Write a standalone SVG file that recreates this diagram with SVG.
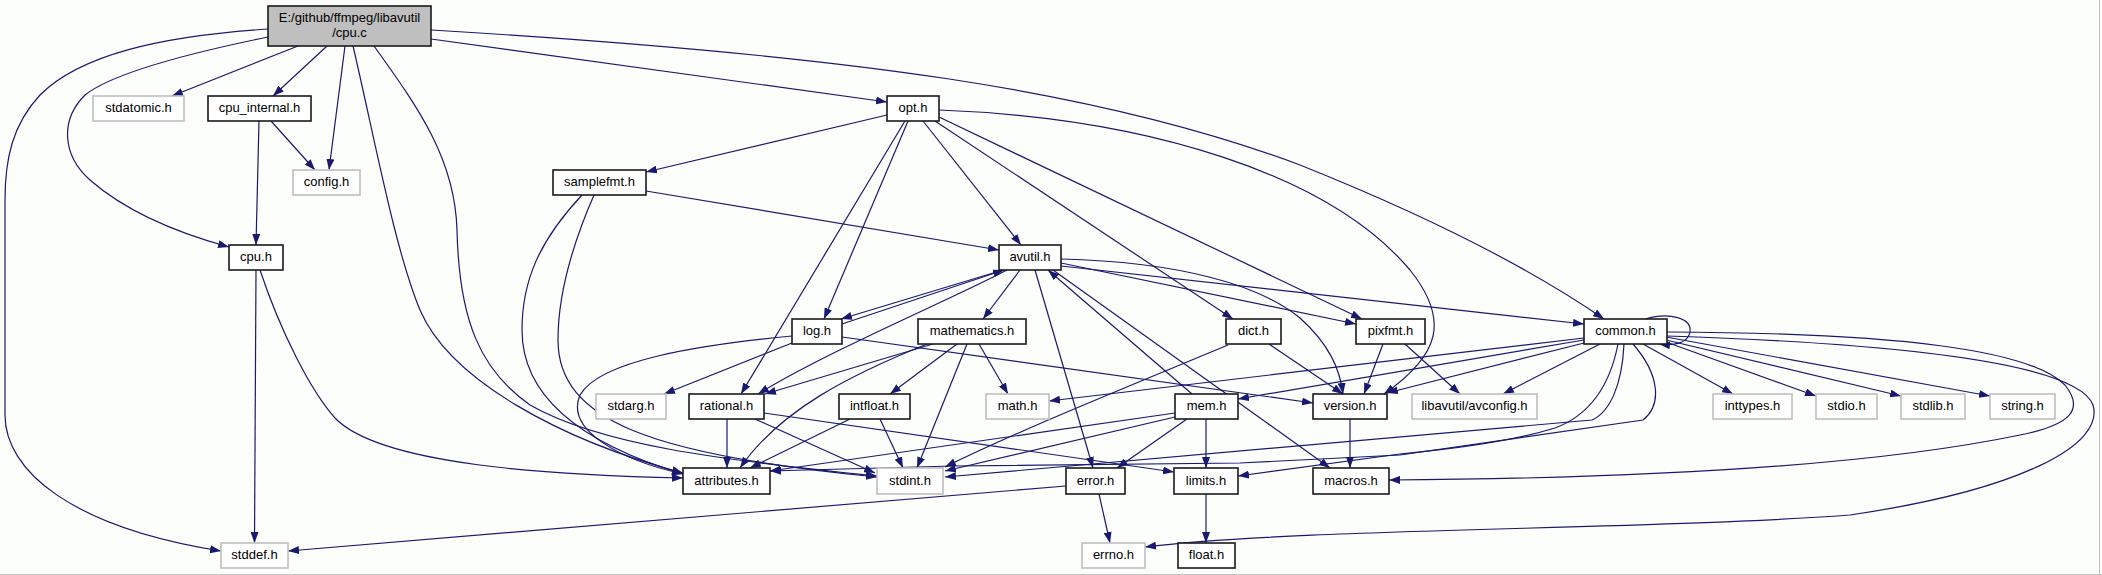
<svg xmlns="http://www.w3.org/2000/svg" width="2102" height="575" viewBox="0 0 2102 575">
<style>
.e{fill:none;stroke:#191970;stroke-width:1.2;marker-end:url(#ah)}
.n rect{fill:#ffffff;stroke:#1a1a1a;stroke-width:1.6}
.g rect{fill:#ffffff;stroke:#bfbfbf;stroke-width:1.6}
.r rect{fill:#bfbfbf;stroke:#1a1a1a;stroke-width:1.6}
text{font-family:"Liberation Sans",Arial,sans-serif;font-size:13px;fill:#000000;text-anchor:middle}
</style>
<defs>
<marker id="ah" markerUnits="userSpaceOnUse" markerWidth="11" markerHeight="8" viewBox="0 0 11 8" refX="11" refY="4" orient="auto"><path d="M0,0 L11,4 L0,8 z" fill="#191970"/></marker>
</defs>
<rect x="0" y="0" width="2102" height="575" fill="#fcfefc"/>
<line x1="0" y1="574.5" x2="2102" y2="574.5" stroke="#c4c4c4" stroke-width="1"/>
<line x1="2099.5" y1="0" x2="2099.5" y2="575" stroke="#c4c4c4" stroke-width="1"/>
<g id="connectors">
<path class="e" d="M298,46 L172,96"/>
<path class="e" d="M327,46 L273,96"/>
<path class="e" d="M345,46 L329,170"/>
<path class="e" d="M268,37 C180,55 110,75 85,95 C60,120 62,155 90,180 C130,215 185,235 229,247"/>
<path class="e" d="M268,29 C160,36 80,55 40,95 C12,125 5,160 5,200 L5,415 C5,470 70,527 221,551"/>
<path class="e" d="M353,46 C375,140 395,250 420,310 C450,380 560,440 683,473"/>
<path class="e" d="M374,46 C420,110 455,160 457,230 C459,320 480,370 530,405 C600,445 720,460 877,476"/>
<path class="e" d="M431,39 L887,102"/>
<path class="e" d="M431,30 C850,55 1100,90 1300,165 C1450,225 1540,275 1604,319"/>
<path class="e" d="M271,121 L315,170"/>
<path class="e" d="M259,121 L256,245"/>
<path class="e" d="M256,270 L254.5,543"/>
<path class="e" d="M260,270 C280,330 310,390 335,418 C380,465 550,475 683,478"/>
<path class="e" d="M887,115 L646,172"/>
<path class="e" d="M923,121 L1021,245"/>
<path class="e" d="M908,121 L824,319"/>
<path class="e" d="M905,121 L741,394"/>
<path class="e" d="M935,121 L1233,319"/>
<path class="e" d="M939,117 L1362,319"/>
<path class="e" d="M939,110 C1150,118 1330,175 1410,270 C1450,320 1440,355 1384,394"/>
<path class="e" d="M646,191 L999,250"/>
<path class="e" d="M582,195 C540,240 522,280 522,330 C522,390 570,440 683,474"/>
<path class="e" d="M594,195 C570,250 558,300 558,340 C558,420 650,455 877,477"/>
<path class="e" d="M1003,270 L841,319"/>
<path class="e" d="M842,324 L1004,270"/>
<path class="e" d="M1007,270 C950,300 830,350 758,394"/>
<path class="e" d="M1020,270 L983,319"/>
<path class="e" d="M1035,270 L1093,468"/>
<path class="e" d="M1061,259 C1180,262 1260,285 1300,318 C1330,345 1340,370 1343,394"/>
<path class="e" d="M1061,263 L1356,324"/>
<path class="e" d="M1061,266 L1584,324"/>
<path class="e" d="M1053,270 L1330,468"/>
<path class="e" d="M1192,394 L1048,270"/>
<path class="e" d="M792,343 L664,394"/>
<path class="e" d="M792,336 C700,345 600,360 580,395 C565,430 620,460 683,474"/>
<path class="e" d="M842,337 L1313,403"/>
<path class="e" d="M933,344 L765,394"/>
<path class="e" d="M957,344 L890,394"/>
<path class="e" d="M979,344 L1008,394"/>
<path class="e" d="M967,344 L917,468"/>
<path class="e" d="M927,344 C850,375 780,410 740,468"/>
<path class="e" d="M1228,345 C1120,390 1020,430 945,467"/>
<path class="e" d="M1269,344 L1343,394"/>
<path class="e" d="M1383,344 L1364,394"/>
<path class="e" d="M1405,344 L1460,394"/>
<path class="e" d="M1645,319 C1670,312 1692,318 1690,332 C1688,343 1675,346 1659,344"/>
<path class="e" d="M1584,338 L1049,401"/>
<path class="e" d="M1584,340 L1238,399"/>
<path class="e" d="M1584,343 L1387,393"/>
<path class="e" d="M1600,344 L1503,394"/>
<path class="e" d="M1643,344 L1733,394"/>
<path class="e" d="M1666,342 L1816,396"/>
<path class="e" d="M1666,340 L1901,396"/>
<path class="e" d="M1666,337 L1990,396"/>
<path class="e" d="M1667,332 C1900,333 2030,350 2065,385 C2085,410 2070,425 2020,435 C1900,460 1700,478 1389,480"/>
<path class="e" d="M1667,336 C1950,345 2080,370 2093,405 C2105,445 2020,490 1850,515 C1650,530 1300,528 1145,547"/>
<path class="e" d="M1624,344 C1622,385 1610,412 1592,420 L945,477"/>
<path class="e" d="M1618,344 C1610,385 1590,415 1555,428 C1500,445 1420,452 1400,454 L1238,476"/>
<path class="e" d="M1633,344 C1660,375 1662,405 1643,420 L1400,455 L1240,463 L953,466 L770,471"/>
<path class="e" d="M1175,413 L770,471"/>
<path class="e" d="M1175,417 L945,471"/>
<path class="e" d="M1187,419 L1117,468"/>
<path class="e" d="M1206,419 L1206,468"/>
<path class="e" d="M727,419 L727,468"/>
<path class="e" d="M755,419 L875,473"/>
<path class="e" d="M764,413 L1174,472"/>
<path class="e" d="M850,419 L750,468"/>
<path class="e" d="M880,419 L903,468"/>
<path class="e" d="M1099,494 L1110,543"/>
<path class="e" d="M1066,486 L288,551"/>
<path class="e" d="M1206,494 L1206,543"/>
<path class="e" d="M1350,419 L1350,468"/>
</g>
<g id="n_cpu_c" class="r"><rect x="268" y="6" width="163" height="40"/><text x="349.5" y="22">E:/github/ffmpeg/libavutil</text><text x="349.5" y="37">/cpu.c</text></g>
<g id="n_stdatomic" class="g"><rect x="93" y="96" width="91" height="25"/><text x="138.5" y="112">stdatomic.h</text></g>
<g id="n_cpu_internal" class="n"><rect x="208" y="96" width="103" height="25"/><text x="259.5" y="112">cpu_internal.h</text></g>
<g id="n_opt" class="n"><rect x="887" y="96" width="52" height="25"/><text x="913" y="112">opt.h</text></g>
<g id="n_config" class="g"><rect x="293" y="170" width="67" height="25"/><text x="326.5" y="186">config.h</text></g>
<g id="n_samplefmt" class="n"><rect x="553" y="170" width="93" height="25"/><text x="599.5" y="186">samplefmt.h</text></g>
<g id="n_cpu_h" class="n"><rect x="229" y="245" width="54" height="25"/><text x="256" y="261">cpu.h</text></g>
<g id="n_avutil" class="n"><rect x="999" y="245" width="62" height="25"/><text x="1030" y="261">avutil.h</text></g>
<g id="n_log" class="n"><rect x="792" y="319" width="50" height="25"/><text x="817" y="335">log.h</text></g>
<g id="n_mathematics" class="n"><rect x="918" y="319" width="108" height="25"/><text x="972" y="335">mathematics.h</text></g>
<g id="n_dict" class="n"><rect x="1226" y="319" width="55" height="25"/><text x="1253.5" y="335">dict.h</text></g>
<g id="n_pixfmt" class="n"><rect x="1356" y="319" width="69" height="25"/><text x="1390.5" y="335">pixfmt.h</text></g>
<g id="n_common" class="n"><rect x="1584" y="319" width="83" height="25"/><text x="1625.5" y="335">common.h</text></g>
<g id="n_stdarg" class="g"><rect x="596" y="394" width="70" height="25"/><text x="631" y="410">stdarg.h</text></g>
<g id="n_rational" class="n"><rect x="689" y="394" width="75" height="25"/><text x="726.5" y="410">rational.h</text></g>
<g id="n_intfloat" class="n"><rect x="839" y="394" width="71" height="25"/><text x="874.5" y="410">intfloat.h</text></g>
<g id="n_math" class="g"><rect x="986" y="394" width="63" height="25"/><text x="1017.5" y="410">math.h</text></g>
<g id="n_mem" class="n"><rect x="1175" y="394" width="63" height="25"/><text x="1206.5" y="410">mem.h</text></g>
<g id="n_version" class="n"><rect x="1313" y="394" width="74" height="25"/><text x="1350" y="410">version.h</text></g>
<g id="n_avconfig" class="g"><rect x="1412" y="394" width="125" height="25"/><text x="1474.5" y="410">libavutil/avconfig.h</text></g>
<g id="n_inttypes" class="g"><rect x="1713" y="394" width="79" height="25"/><text x="1752.5" y="410">inttypes.h</text></g>
<g id="n_stdio" class="g"><rect x="1816" y="394" width="61" height="25"/><text x="1846.5" y="410">stdio.h</text></g>
<g id="n_stdlib" class="g"><rect x="1901" y="394" width="64" height="25"/><text x="1933" y="410">stdlib.h</text></g>
<g id="n_string" class="g"><rect x="1990" y="394" width="65" height="25"/><text x="2022.5" y="410">string.h</text></g>
<g id="n_attributes" class="n"><rect x="683" y="468" width="87" height="26"/><text x="726.5" y="484.5">attributes.h</text></g>
<g id="n_stdint" class="g"><rect x="877" y="468" width="66" height="26"/><text x="910" y="484.5">stdint.h</text></g>
<g id="n_error" class="n"><rect x="1066" y="468" width="59" height="26"/><text x="1095.5" y="484.5">error.h</text></g>
<g id="n_limits" class="n"><rect x="1174" y="468" width="64" height="26"/><text x="1206" y="484.5">limits.h</text></g>
<g id="n_macros" class="n"><rect x="1313" y="468" width="76" height="26"/><text x="1351" y="484.5">macros.h</text></g>
<g id="n_stddef" class="g"><rect x="221" y="543" width="67" height="25"/><text x="254.5" y="559">stddef.h</text></g>
<g id="n_errno" class="g"><rect x="1082" y="543" width="63" height="25"/><text x="1113.5" y="559">errno.h</text></g>
<g id="n_float" class="n"><rect x="1178" y="543" width="57" height="25"/><text x="1206.5" y="559">float.h</text></g>
</svg>
